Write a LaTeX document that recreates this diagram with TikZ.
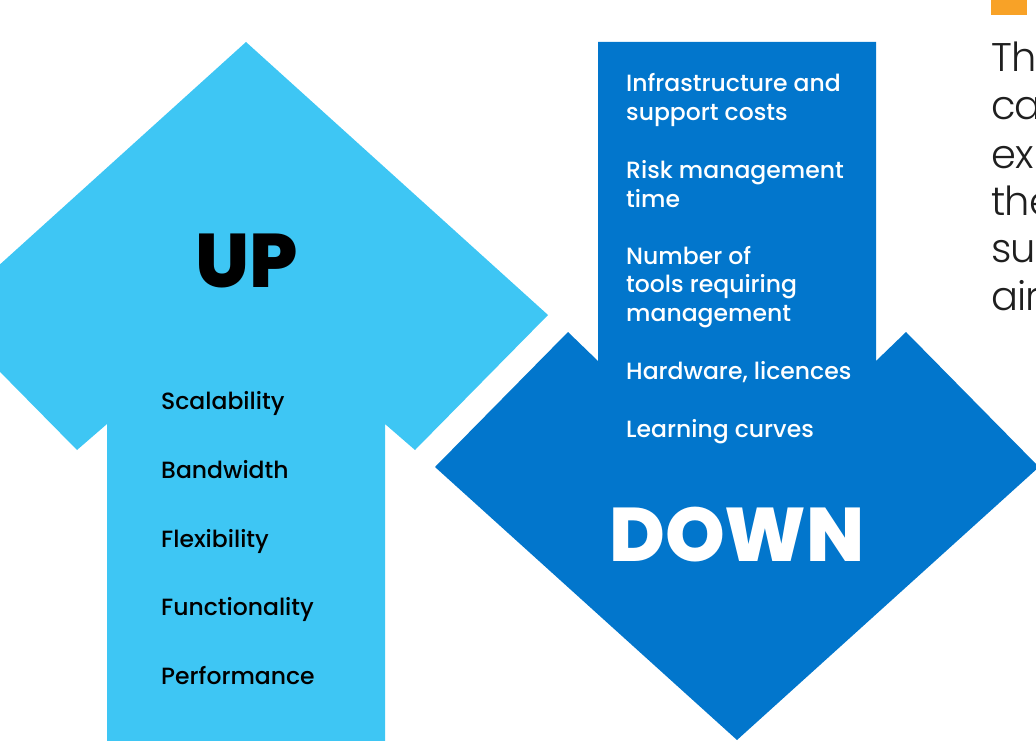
\documentclass[tikz,border=0pt]{standalone}
\usepackage{fontspec}
\setmainfont{Poppins}
\newfontfamily\medfont{Poppins Medium}
\newfontfamily\heavyfont{Poppins ExtraBold}
\newfontfamily\lightfont{Poppins Light}[LetterSpace=-2]
\definecolor{upblue}{HTML}{3EC6F4}
\definecolor{downblue}{HTML}{0276CC}
\definecolor{accent}{HTML}{F8A227}
\tikzset{
  item/.style={anchor=base west, inner sep=0pt, font=\medfont\fontsize{23.5}{28.7}\selectfont},
  upitem/.style={item, text=black},
  downitem/.style={item, text=white, align=left},
  bigword/.style={anchor=base, inner sep=0pt, font=\heavyfont\fontsize{76}{80}\selectfont},
  sidetext/.style={anchor=base west, inner sep=0pt, font=\lightfont\fontsize{40}{47.6}\selectfont, text=black!88}
}
\begin{document}
\begin{tikzpicture}[x=1pt,y=-1pt]
\useasboundingbox (0,0) rectangle (1036,741);
\begin{scope}
\clip (0,0) rectangle (1036,741);
% UP arrow
\fill[upblue] (246,42) -- (548,315) -- (415,450) -- (385,424) -- (385,750) -- (107,750) -- (107,424) -- (77,450) -- (-56,315) -- cycle;
% DOWN arrow
\fill[downblue] (598,42) -- (876,42) -- (876,361) -- (906,332) -- (1039,467) -- (737,740) -- (435,467) -- (568,332) -- (598,361) -- cycle;
% orange bar
\fill[accent] (991,-2) rectangle (1027,15);
% big words
\node[bigword, text=black] (up) at (247,287) {UP};
\node[bigword, text=white] (down) at (737,561) {DOWN};
% up items
\node[upitem] (u1) at (161,409) {Scalability};
\node[upitem] (u2) at (161,478) {Bandwidth};
\node[upitem] (u3) at (161,547) {Flexibility};
\node[upitem] (u4) at (161,615) {Functionality};
\node[upitem] (u5) at (161,684) {Performance};
% down items (anchored at the baseline of their last line)
\node[downitem] (d1) at (626,120.5) {Infrastructure and\\support costs};
\node[downitem] (d2) at (626,207) {Risk management\\time};
\node[downitem] (d3) at (626,321.5) {Number of\\tools requiring\\management};
\node[downitem] (d4) at (626,379.5) {Hardware, licences};
\node[downitem] (d5) at (626,437.5) {Learning curves};
% side text (cut off by the page edge, as in the reference)
\node[sidetext] (s1) at (991,72) {The};
\node[sidetext] (s2) at (991,120) {can};
\node[sidetext] (s3) at (991,168) {ex};
\node[sidetext] (s4) at (991,215) {the};
\node[sidetext] (s5) at (991,262) {su};
\node[sidetext] (s6) at (991,310) {air};
\end{scope}
\end{tikzpicture}
\end{document}
